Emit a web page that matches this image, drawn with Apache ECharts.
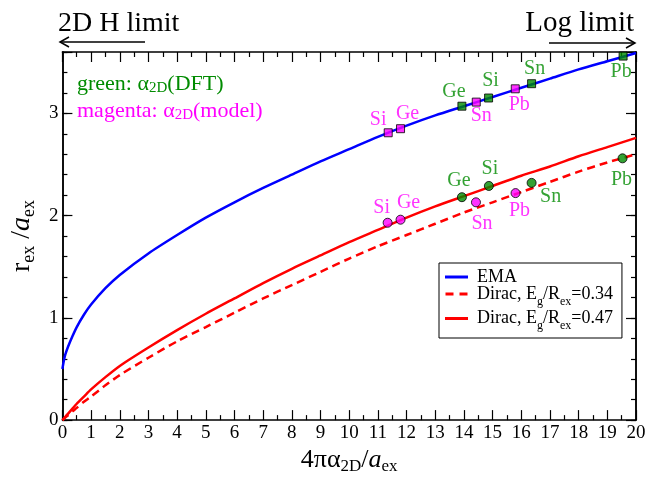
<!DOCTYPE html>
<html>
<head>
<meta charset="utf-8">
<script src="https://cdn.jsdelivr.net/npm/echarts@6/dist/echarts.min.js"></script>
<style>
  html, body { margin: 0; background: #fff; }
  #chart { width: 664px; height: 480px; }
</style>
</head>
<body>
<div id="chart"></div>
<script>
// curves
const xs = [0, 0.05, 0.1, 0.2, 0.35, 0.5, 0.75, 1, 1.5, 2, 3, 4, 5, 6, 7, 8, 9, 10, 11, 12, 13, 14, 15, 16, 17, 18, 19, 20];
const ema = [0.50, 0.58, 0.64, 0.72, 0.82, 0.91, 1.03, 1.13, 1.29, 1.42, 1.63, 1.81, 1.98, 2.13, 2.27, 2.40, 2.53, 2.65, 2.77, 2.88, 2.98, 3.07, 3.16, 3.25, 3.34, 3.43, 3.51, 3.59];
const dirac034 = [0, 0.012, 0.024, 0.048, 0.085, 0.12, 0.18, 0.23, 0.34, 0.44, 0.61, 0.77, 0.91, 1.05, 1.19, 1.32, 1.45, 1.58, 1.70, 1.81, 1.92, 2.03, 2.13, 2.23, 2.33, 2.43, 2.52, 2.60];
const dirac047 = [0, 0.016, 0.032, 0.064, 0.112, 0.16, 0.23, 0.30, 0.42, 0.53, 0.71, 0.88, 1.04, 1.19, 1.34, 1.48, 1.61, 1.74, 1.86, 1.98, 2.09, 2.19, 2.29, 2.39, 2.48, 2.58, 2.67, 2.76];

// materials (same order in every marker list)
const materials = ['Si', 'Ge', 'Sn', 'Pb'];
// squares on the EMA curve
const emaDftX = [14.86, 13.93, 16.36, 19.55];
const emaDftY = [3.15, 3.07, 3.29, 3.56];
const emaModelX = [11.36, 11.79, 14.43, 15.79];
const emaModelY = [2.81, 2.85, 3.11, 3.24];
// circles on the Dirac curves
const diracDftX = [14.87, 13.93, 16.36, 19.53];
const diracDftY = [2.29, 2.18, 2.32, 2.56];
const diracModelX = [11.34, 11.79, 14.42, 15.80];
const diracModelY = [1.93, 1.96, 2.13, 2.22];

const xTicks = { min: 0, max: 20, step: 1 };
const yTicks = { min: 0, max: 3.6, step: 1, minorStep: 0.2 };

// label placement around each marker (pixels)
const emaDftOffsets = [[2, -17], [-8, -14], [3, -15], [-2, 16]];
const emaModelOffsets = [[-10, -13], [7, -15], [5, 14], [4, 16]];
const diracDftOffsets = [[1, -17], [-3, -16], [19, 14], [-1, 21]];
const diracModelOffsets = [[-6, -15], [8, -17], [6, 21], [4, 18]];

const SERIF = '"Liberation Serif", "Times New Roman", serif';
const GREEN = '#008b00';
const MAGENTA = '#ff00ff';

const chart = echarts.init(document.getElementById('chart'));

function curve(name, ys, color, type) {
  return {
    name: name,
    type: 'line',
    data: xs.map((x, i) => [x, ys[i]]),
    symbol: 'none',
    smooth: 0.25,
    lineStyle: { color: color, width: 2.5, type: type },
    itemStyle: { color: color },
    z: 2
  };
}

function markers(xArr, yArr, offsets, symbol, color) {
  return {
    type: 'scatter',
    symbol: symbol,
    symbolSize: symbol === 'rect' ? 8 : 9,
    itemStyle: { color: color, borderColor: '#000', borderWidth: 1 },
    data: materials.map((m, i) => ({
      name: m,
      value: [xArr[i], yArr[i]],
      label: { offset: offsets[i] }
    })),
    label: {
      show: true,
      position: 'inside',
      formatter: '{b}',
      color: color,
      fontFamily: SERIF,
      fontSize: 20,
      textBorderWidth: 0
    },
    z: 5
  };
}

const tickStyle = { color: '#000', width: 1.2 };
const axisLine = { show: true, onZero: false, lineStyle: { color: '#000', width: 1.5 } };

function xAxis(position, withLabels) {
  return {
    type: 'value',
    position: position,
    min: xTicks.min,
    max: xTicks.max,
    interval: xTicks.step,
    axisLine: axisLine,
    axisTick: { inside: true, length: 10, lineStyle: tickStyle },
    minorTick: { show: true, splitNumber: 2, length: 5, lineStyle: tickStyle },
    splitLine: { show: false },
    axisLabel: { show: withLabels, color: '#000', fontFamily: SERIF, fontSize: 19, margin: 3 }
  };
}

function yAxis(position, step, tickLen, withLabels) {
  return {
    type: 'value',
    position: position,
    min: yTicks.min,
    max: yTicks.max,
    interval: step,
    axisLine: axisLine,
    axisTick: { inside: true, length: tickLen, lineStyle: tickStyle },
    splitLine: { show: false },
    axisLabel: {
      show: withLabels,
      color: '#000',
      fontFamily: SERIF,
      fontSize: 19,
      margin: 4,
      formatter: v => (Math.abs(v - Math.round(v)) < 1e-6 ? String(Math.round(v)) : '')
    }
  };
}

function nameRich(size, subSize) {
  return {
    n: { fontFamily: SERIF, fontSize: size, lineHeight: size + 4, color: '#000' },
    i: { fontFamily: SERIF, fontSize: size, lineHeight: size + 4, fontStyle: 'italic', color: '#000' },
    s: { fontFamily: SERIF, fontSize: subSize, lineHeight: 10, verticalAlign: 'bottom', color: '#000' }
  };
}

const xMain = xAxis('bottom', true);
xMain.name = '{n|4πα}{s|2D}{n|/}{i|a}{s|ex}';
xMain.nameLocation = 'middle';
xMain.nameGap = 20;
xMain.nameTextStyle = { rich: nameRich(26, 17) };

const yMain = yAxis('left', yTicks.minorStep, 5, true);
yMain.name = '{n|r}{s|ex}{n| /}{i|a}{s|ex}';
yMain.nameLocation = 'middle';
yMain.nameGap = 21;
yMain.nameTextStyle = { rich: nameRich(28, 18) };

const legendRich = {
  e: { fontFamily: SERIF, fontSize: 18, lineHeight: 10, color: '#000' },
  m: { fontFamily: SERIF, fontSize: 18, lineHeight: 33, color: '#000' },
  s: { fontFamily: SERIF, fontSize: 12, lineHeight: 10, verticalAlign: 'bottom', padding: [0, 0, 3, 0], color: '#000' }
};

function arrow(points, head) {
  return [
    { type: 'polyline', shape: { points: points }, style: { stroke: '#000', lineWidth: 1.5, fill: null } },
    { type: 'polyline', shape: { points: head }, style: { stroke: '#000', lineWidth: 1.5, fill: null } }
  ];
}

chart.setOption({
  animation: false,
  backgroundColor: '#fff',
  grid: { left: 60, right: 28, top: 52, bottom: 53 },
  xAxis: [xMain, xAxis('top', false)],
  yAxis: [
    yMain,
    yAxis('left', yTicks.step, 10, false),
    yAxis('right', yTicks.minorStep, 5, false),
    yAxis('right', yTicks.step, 10, false)
  ],
  legend: {
    data: [
      { name: 'EMA', icon: 'rect' },
      { name: 'Dirac034', icon: 'path://M0,0h8v3h-8zM14,0h8v3h-8z' },
      { name: 'Dirac047', icon: 'rect' }
    ],
    orient: 'vertical',
    left: 439,
    top: 263,
    padding: [5, 9, 3, 6],
    itemGap: -1,
    itemWidth: 23,
    itemHeight: 3,
    selectedMode: false,
    borderColor: '#000',
    borderWidth: 1,
    borderRadius: 0,
    backgroundColor: '#fff',
    textStyle: { fontFamily: SERIF, fontSize: 18, color: '#000', padding: [0, 0, 0, 4], rich: legendRich },
    formatter: function (name) {
      if (name === 'Dirac034') return '{m|Dirac, E}{s|g}{m|/R}{s|ex}{m|=0.34}';
      if (name === 'Dirac047') return '{m|Dirac, E}{s|g}{m|/R}{s|ex}{m|=0.47}';
      return '{e|' + name + '}';
    }
  },
  graphic: [
    { type: 'text', x: 58, y: 24, style: { text: '2D H limit', font: '28px ' + SERIF, fill: '#000', verticalAlign: 'middle' } },
    { type: 'text', x: 634, y: 23, style: { text: 'Log limit', font: '29px ' + SERIF, fill: '#000', align: 'right', verticalAlign: 'middle' } },
    ...arrow([[60, 42], [145, 42]], [[69, 37], [60, 42], [69, 47]]),
    ...arrow([[549, 43], [635, 43]], [[626, 38], [635, 43], [626, 48]]),
    {
      type: 'text', x: 77, y: 84,
      style: {
        text: '{a|green: α}{b|2D}{a|(DFT)}', verticalAlign: 'middle',
        rich: {
          a: { fontFamily: SERIF, fontSize: 22, lineHeight: 24, fill: GREEN },
          b: { fontFamily: SERIF, fontSize: 15, lineHeight: 10, verticalAlign: 'bottom', fill: GREEN }
        }
      }
    },
    {
      type: 'text', x: 77, y: 111,
      style: {
        text: '{a|magenta: α}{b|2D}{a|(model)}', verticalAlign: 'middle',
        rich: {
          a: { fontFamily: SERIF, fontSize: 22, lineHeight: 24, fill: MAGENTA },
          b: { fontFamily: SERIF, fontSize: 15, lineHeight: 10, verticalAlign: 'bottom', fill: MAGENTA }
        }
      }
    }
  ],
  series: [
    curve('EMA', ema, '#0000ff', 'solid'),
    curve('Dirac034', dirac034, '#ff0000', [8, 5]),
    curve('Dirac047', dirac047, '#ff0000', 'solid'),
    markers(emaModelX, emaModelY, emaModelOffsets, 'rect', MAGENTA),
    markers(emaDftX, emaDftY, emaDftOffsets, 'rect', GREEN),
    markers(diracModelX, diracModelY, diracModelOffsets, 'circle', MAGENTA),
    markers(diracDftX, diracDftY, diracDftOffsets, 'circle', GREEN)
  ]
});
</script>
</body>
</html>
